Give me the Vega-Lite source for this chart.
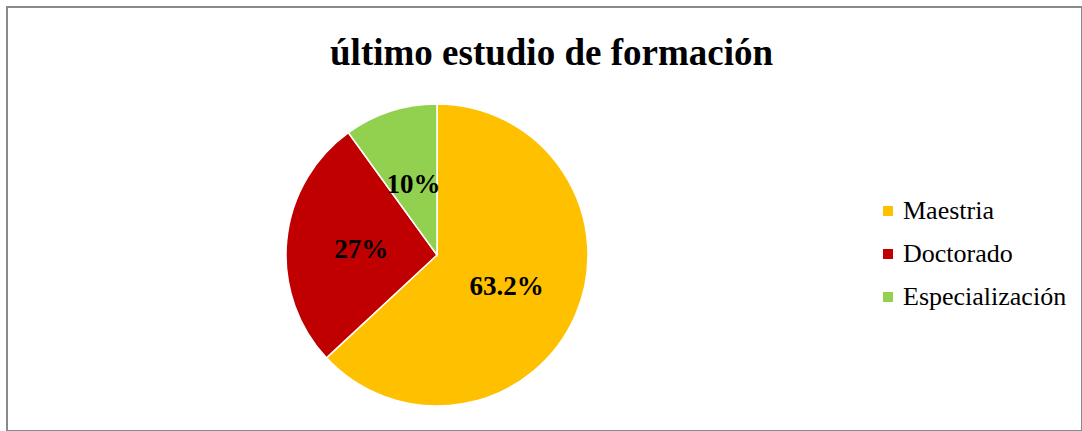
{
  "$schema": "https://vega.github.io/schema/vega-lite/v6.json",
  "autosize": {"type": "fit", "contains": "padding"},
  "width": 1082,
  "height": 431,
  "padding": {"left": 7, "top": 7, "right": 0, "bottom": 0},
  "background": "white",
  "view": {"stroke": "#898989", "strokeWidth": 2},
  "title": {
    "text": "último estudio de formación",
    "font": "Liberation Serif",
    "fontSize": 37,
    "fontWeight": "bold",
    "color": "black",
    "anchor": "middle",
    "frame": "group",
    "offset": -66,
    "dx": 7
  },
  "config": {"view": {"stroke": "#898989", "strokeWidth": 2}},
  "data": {
    "values": [
      {"nivel": "Maestria", "valor": 63.2, "etiqueta": "63.2%"},
      {"nivel": "Doctorado", "valor": 27, "etiqueta": "27%"},
      {"nivel": "Especialización", "valor": 10, "etiqueta": "10%"}
    ]
  },
  "encoding": {
    "theta": {"field": "valor", "type": "quantitative", "stack": true},
    "order": {"field": "valor", "type": "quantitative", "sort": "descending"}
  },
  "layer": [
    {
      "mark": {"type": "arc", "outerRadius": 151, "x": 430, "y": 248, "stroke": "white", "strokeWidth": 1.5},
      "encoding": {
        "color": {
          "field": "nivel",
          "type": "nominal",
          "scale": {"domain": ["Maestria", "Doctorado", "Especialización"], "range": ["#FFC000", "#C00000", "#92D050"]},
          "legend": {
            "orient": "none",
            "legendX": 868,
            "legendY": 191,
            "title": null,
            "labelFont": "Liberation Serif",
            "labelFontSize": 26,
            "labelColor": "black",
            "labelLimit": 400,
            "symbolType": "square",
            "symbolSize": 100,
            "symbolStrokeWidth": 0,
            "rowPadding": 17,
            "labelOffset": 2
          }
        }
      }
    },
    {
      "mark": {"type": "text", "radius": 76, "x": 430, "y": 250, "font": "Liberation Serif", "fontSize": 27, "fontWeight": "bold", "color": "black"},
      "encoding": {"text": {"field": "etiqueta", "type": "nominal"}}
    }
  ]
}
